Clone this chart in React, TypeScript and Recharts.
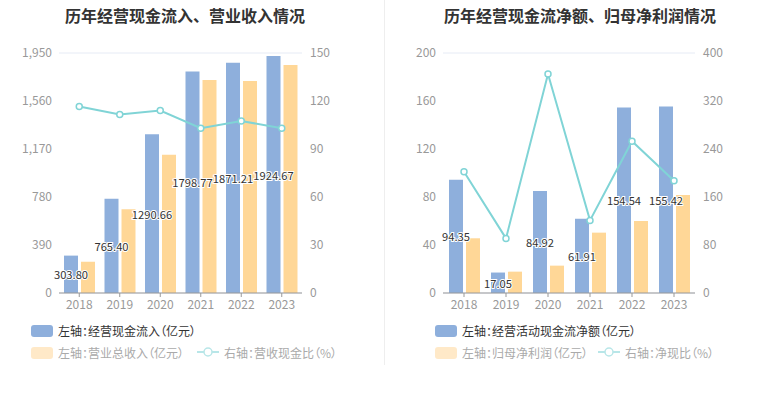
import React from 'react';
import { ComposedChart, Bar, Line, XAxis, YAxis, CartesianGrid, LabelList } from 'recharts';

const years = ['2018', '2019', '2020', '2021', '2022', '2023'];

// left chart
const cashInflow = [303.8, 765.4, 1290.66, 1798.77, 1871.21, 1924.67];
const revenue = [254, 680, 1124, 1731, 1722, 1852];
const revCashRatio = [116.5, 111.5, 114, 103, 107.5, 103];
const leftTicksL = [0, 390, 780, 1170, 1560, 1950];
const leftTicksR = [0, 30, 60, 90, 120, 150];

// right chart
const netCash = [94.35, 17.05, 84.92, 61.91, 154.54, 155.42];
const netProfit = [45.6, 17.8, 22.8, 50.3, 60, 81.7];
const netCashRatio = [202, 91, 365, 121, 253, 187];
const rightTicksL = [0, 40, 80, 120, 160, 200];
const rightTicksR = [0, 80, 160, 240, 320, 400];

const BLUE = '#8eafdc';
const ORANGE = '#ffd797';
const TEAL = '#80d4d6';
const FONT = '"Noto Sans CJK SC", "Noto Sans", sans-serif';
const BAR = 14;
const GAP = 3;

const leftData = years.map((y, i) => ({ year: y, a: cashInflow[i], b: revenue[i], r: revCashRatio[i] }));
const rightData = years.map((y, i) => ({ year: y, a: netCash[i], b: netProfit[i], r: netCashRatio[i] }));

// label for the blue bar, drawn from the orange bar's layer so it stays on top
const makeLabel = (data: any[]) => (props: any) => {
  const { x, y, width, height, index } = props;
  const row = data[index];
  const perUnit = height / row.b;
  const base = y + height;
  const cx = x - GAP - width / 2;
  const cy = base - (row.a * perUnit) / 2;
  return (
    <text
      x={cx}
      y={cy}
      textAnchor="middle"
      dominantBaseline="central"
      fontSize={11.2}
      fill="#333"
      stroke="#fff"
      strokeWidth={2}
      paintOrder="stroke"
      style={{ fontFamily: FONT }}
    >
      {Number(row.a).toFixed(2)}
    </text>
  );
};

const tick = { fill: '#999', fontSize: 12, fontFamily: FONT };
const fmt = (v: number) => v.toLocaleString('en-US');

function Panel({ data, ticksL, ticksR, leftW, rightW, width }: any) {
  return (
    <ComposedChart
      width={width}
      height={330}
      data={data}
      margin={{ top: 53, right: 0, bottom: 7, left: 0 }}
      barSize={BAR}
      barGap={GAP}
    >
      <CartesianGrid vertical={false} stroke="#e6ebf5" />
      <XAxis
        dataKey="year"
        height={30}
        tick={tick}
        tickSize={4}
        tickMargin={3}
        axisLine={{ stroke: '#999' }}
        tickLine={{ stroke: '#999' }}
      />
      <YAxis
        yAxisId="l"
        width={leftW}
        domain={[0, ticksL[ticksL.length - 1]]}
        ticks={ticksL}
        tickFormatter={fmt}
        tick={tick}
        axisLine={false}
        tickLine={false}
        tickMargin={1}
      />
      <YAxis
        yAxisId="r"
        orientation="right"
        width={rightW}
        domain={[0, ticksR[ticksR.length - 1]]}
        ticks={ticksR}
        tick={tick}
        axisLine={false}
        tickLine={false}
        tickMargin={2}
      />
      <Bar yAxisId="l" dataKey="a" fill={BLUE} isAnimationActive={false} />
      <Bar yAxisId="l" dataKey="b" fill={ORANGE} isAnimationActive={false}>
        <LabelList dataKey="b" content={makeLabel(data)} />
      </Bar>
      <Line
        yAxisId="r"
        dataKey="r"
        stroke={TEAL}
        strokeWidth={2}
        dot={{ r: 3, fill: '#fff', stroke: TEAL, strokeWidth: 1.5 }}
        isAnimationActive={false}
      />
    </ComposedChart>
  );
}

function Legend({ left, first, second, third, lineX }: any) {
  const txt = { fontSize: 12, fontFamily: FONT, fontFeatureSettings: '"palt"', position: 'absolute' as const, whiteSpace: 'nowrap' as const };
  return (
    <>
      <div style={{ position: 'absolute', left, top: 325, width: 22, height: 12, borderRadius: 3, background: BLUE }} />
      <div style={{ ...txt, left: left + 27, top: 322, color: '#333' }}>{first}</div>
      <div style={{ position: 'absolute', left, top: 347, width: 22, height: 12, borderRadius: 3, background: '#ffe9c8' }} />
      <div style={{ ...txt, left: left + 27, top: 344, color: '#aaa' }}>{second}</div>
      <svg style={{ position: 'absolute', left: lineX, top: 346 }} width={22} height={12}>
        <line x1={0} y1={6} x2={22} y2={6} stroke="#b8e6e8" strokeWidth={2} />
        <circle cx={11} cy={6} r={4} fill="#fff" stroke="#b8e6e8" strokeWidth={1.5} />
      </svg>
      <div style={{ ...txt, left: lineX + 27, top: 344, color: '#aaa' }}>{third}</div>
    </>
  );
}

export default function App() {
  const title = { position: 'absolute' as const, top: 3, fontSize: 16, fontWeight: 700, color: '#333', fontFamily: FONT, transform: 'translateX(-50%)', whiteSpace: 'nowrap' as const };
  return (
    <div style={{ position: 'fixed', left: 0, top: 0, width: 765, height: 393, background: '#fff' }}>
      <div style={{ ...title, left: 185 }}>历年经营现金流入、营业收入情况</div>
      <div style={{ ...title, left: 580 }}>历年经营现金流净额、归母净利润情况</div>
      <div style={{ position: 'absolute', left: 384, top: 0, width: 1, height: 365, background: '#eeeeee' }} />
      <div style={{ position: 'absolute', left: 0, top: 0 }}>
        <Panel data={leftData} ticksL={leftTicksL} ticksR={leftTicksR} leftW={59} rightW={82} width={384} />
      </div>
      <div style={{ position: 'absolute', left: 385, top: 0 }}>
        <Panel data={rightData} ticksL={rightTicksL} ticksR={rightTicksR} leftW={58} rightW={70} width={380} />
      </div>
      <Legend left={31} lineX={197} first="左轴：经营现金流入（亿元）" second="左轴：营业总收入（亿元）" third="右轴：营收现金比（%）" />
      <Legend left={435} lineX={598} first="左轴：经营活动现金流净额（亿元）" second="左轴：归母净利润（亿元）" third="右轴：净现比（%）" />
    </div>
  );
}
